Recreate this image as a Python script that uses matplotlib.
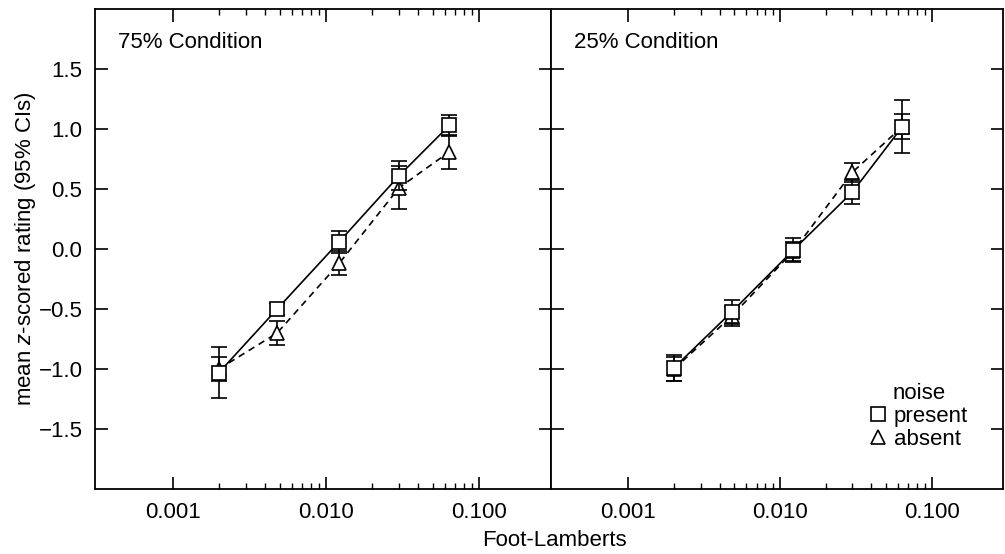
import matplotlib.pyplot as plt
from matplotlib.lines import Line2D
from matplotlib.ticker import FixedLocator, NullFormatter

plt.rcParams["font.family"] = ["Liberation Sans", "DejaVu Sans"]
plt.rcParams["mathtext.fontset"] = "custom"
plt.rcParams["mathtext.it"] = "Liberation Sans:italic"
plt.rcParams["mathtext.rm"] = "Liberation Sans"

# luminance levels (foot-lamberts)
lum = [0.002, 0.0048, 0.0122, 0.030, 0.064]

# 75% condition
p75_mean = [-1.03, -0.50, 0.06, 0.61, 1.03]
p75_ci = [0.21, 0.05, 0.09, 0.12, 0.09]
a75_mean = [-1.00, -0.70, -0.12, 0.51, 0.81]
a75_ci = [0.10, 0.10, 0.10, 0.18, 0.14]

# 25% condition
p25_mean = [-0.99, -0.525, -0.01, 0.475, 1.02]
p25_ci = [0.11, 0.10, 0.10, 0.10, 0.105]
a25_mean = [-1.00, -0.56, -0.02, 0.64, 1.02]
a25_ci = [0.10, 0.08, 0.08, 0.08, 0.22]

conditions = ["75% Condition", "25% Condition"]
yticks = [-1.5, -1.0, -0.5, 0.0, 0.5, 1.0, 1.5]
xticks = [0.001, 0.01, 0.1]
xticklabels = ["0.001", "0.010", "0.100"]

FS = 16

fig = plt.figure(figsize=(10.05, 5.54), dpi=100)
ax1 = fig.add_axes([0.0945, 0.1173, 0.4537, 0.8664])
ax2 = fig.add_axes([0.5483, 0.1173, 0.4498, 0.8664])

panels = [
    (ax1, conditions[0], p75_mean, p75_ci, a75_mean, a75_ci),
    (ax2, conditions[1], p25_mean, p25_ci, a25_mean, a25_ci),
]

for ax, title, pm, pc, am, ac in panels:
    ax.set_xscale("log")
    # absent first so the squares sit on top
    ax.errorbar(lum, am, yerr=ac, color="black", lw=1.2, ls=(0, (4, 3)),
                marker="^", ms=10, mfc="white", mec="black", mew=1.2,
                capsize=6, elinewidth=1.2, capthick=1.2, zorder=2)
    ax.errorbar(lum, pm, yerr=pc, color="black", lw=1.2, ls="-",
                marker="s", ms=10.5, mfc="white", mec="black", mew=1.2,
                capsize=6, elinewidth=1.2, capthick=1.2, zorder=3)

    ax.set_xlim(3.1e-4, 0.295)
    ax.set_ylim(-2.0, 2.0)
    ax.set_yticks(yticks)
    ax.set_xticks(xticks)
    ax.set_xticklabels(xticklabels)
    minors = [m * d for d in [0.001, 0.01] for m in range(2, 10)]
    ax.xaxis.set_minor_locator(FixedLocator(minors))
    ax.xaxis.set_minor_formatter(NullFormatter())
    ax.tick_params(axis="both", which="major", direction="in", length=9,
                   width=1.2, top=True, right=True, labelsize=FS)
    ax.tick_params(axis="x", which="minor", direction="in", length=4,
                   width=1.0, top=True, bottom=True)
    ax.tick_params(axis="x", pad=9)
    ax.tick_params(axis="y", pad=9)
    for s in ax.spines.values():
        s.set_linewidth(1.3)
    ax.text(0.05, 0.93, title, transform=ax.transAxes, fontsize=FS,
            ha="left", va="center")

ax1.set_yticklabels(["\u22121.5", "\u22121.0", "\u22120.5", "0.0", "0.5", "1.0", "1.5"])
ax1.set_ylabel("mean $\\it{z}$-scored rating (95% CIs)", fontsize=FS, labelpad=0)
ax2.tick_params(axis="y", labelleft=False)

handles = [
    Line2D([], [], ls="none", marker="s", ms=10, mfc="white", mec="black", mew=1.2),
    Line2D([], [], ls="none", marker="^", ms=10, mfc="white", mec="black", mew=1.2),
]
leg = ax2.legend(handles, ["present", "absent"], title="noise", loc="upper left",
                 bbox_to_anchor=(0.68, 0.245), frameon=False, fontsize=FS,
                 title_fontsize=FS, handlelength=0.8, handletextpad=0.3,
                 borderpad=0, labelspacing=0.1)

fig.text(0.552, 0.0235, "Foot-Lamberts", ha="center", va="center", fontsize=FS)

fig.savefig("out.png", dpi=100)
